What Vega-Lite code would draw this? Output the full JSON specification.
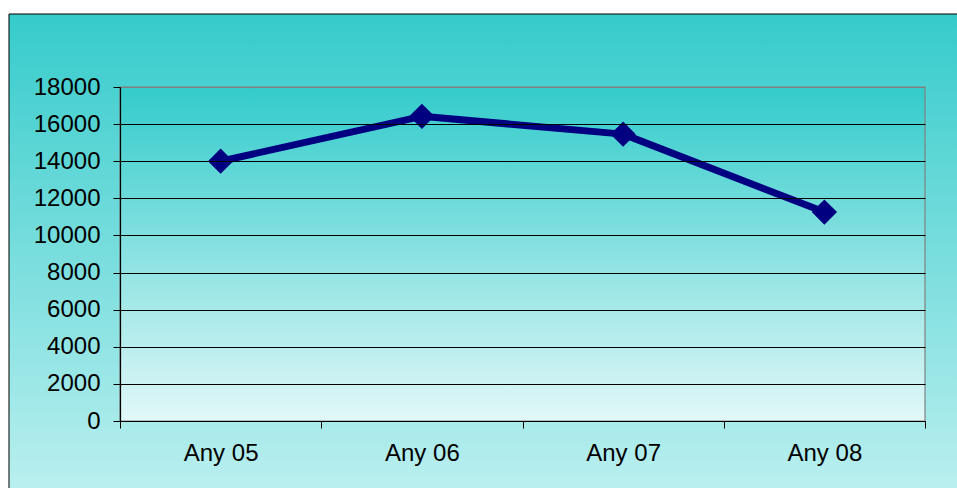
{
  "$schema": "https://vega.github.io/schema/vega-lite/v6.json",
  "width": 805,
  "height": 334,
  "autosize": {"type": "none"},
  "padding": {"left": 120, "top": 87, "right": 32, "bottom": 67},
  "background": "#ffffff",
  "config": {
    "view": {"stroke": null},
    "axis": {"labelFont": "Liberation Sans", "labelFontSize": 24, "labelColor": "#000000"}
  },
  "resolve": {"scale": {"x": "independent"}, "axis": {"x": "independent"}},
  "layer": [
    {
      "data": {"values": [{}]},
      "mark": {
        "type": "rect",
        "stroke": "#000000",
        "strokeWidth": 1,
        "fill": {
          "gradient": "linear", "x1": 0, "y1": 0, "x2": 0, "y2": 1,
          "stops": [
            {"offset": 0, "color": "#36CBCB"},
            {"offset": 0.915, "color": "#BAEFEF"},
            {"offset": 1, "color": "#BFF0F0"}
          ]
        }
      },
      "encoding": {
        "x": {"datum": -0.5516, "type": "quantitative", "scale": {"domain": [0, 4]}, "axis": null},
        "x2": {"datum": 4.4},
        "y": {"datum": 21934, "type": "quantitative", "scale": {"domain": [0, 18000], "nice": false},
          "axis": {
            "title": null, "values": [0, 2000, 4000, 6000, 8000, 10000, 12000, 14000, 16000, 18000],
            "format": "d", "grid": true, "labelOverlap": false, "labelFlush": false,
            "gridColor": {"condition": {"test": "datum.value == 18000", "value": "#808080"}, "value": "#000000"},
            "gridWidth": 1,
            "domainColor": "#000000", "domainWidth": 1.2, "tickColor": "#000000", "tickSize": 7,
            "labelPadding": 13, "labelBaseline": "middle", "zindex": 1
          }
        },
        "y2": {"datum": -6000}
      }
    },
    {
      "data": {"values": [{}]},
      "mark": {
        "type": "rect",
        "stroke": "#808080",
        "strokeWidth": 1.2,
        "fill": {
          "gradient": "linear", "x1": 0, "y1": 0, "x2": 0, "y2": 1,
          "stops": [
            {"offset": 0, "color": "#33CBCB"},
            {"offset": 1, "color": "#E2F8F8"}
          ]
        }
      },
      "encoding": {
        "x": {"datum": 0, "type": "quantitative", "scale": {"domain": [0, 4]}, "axis": null},
        "x2": {"datum": 4},
        "y": {"datum": 18000, "type": "quantitative", "scale": {"domain": [0, 18000], "nice": false},
          "axis": {
            "title": null, "values": [0, 2000, 4000, 6000, 8000, 10000, 12000, 14000, 16000, 18000],
            "format": "d", "grid": true, "labelOverlap": false, "labelFlush": false,
            "gridColor": {"condition": {"test": "datum.value == 18000", "value": "#808080"}, "value": "#000000"},
            "gridWidth": 1,
            "domainColor": "#000000", "domainWidth": 1.2, "tickColor": "#000000", "tickSize": 7,
            "labelPadding": 13, "labelBaseline": "middle", "zindex": 1
          }
        },
        "y2": {"datum": 0}
      }
    },
    {
      "data": {"values": [
        {"year": "Any 05", "value": 14000},
        {"year": "Any 06", "value": 16420},
        {"year": "Any 07", "value": 15460},
        {"year": "Any 08", "value": 11260}
      ]},
      "layer": [
        {
          "mark": {"type": "line", "color": "#000080", "strokeWidth": 7, "strokeJoin": "round"},
          "encoding": {}
        },
        {
          "mark": {"type": "point", "shape": "diamond", "filled": true, "size": 640, "color": "#000080", "opacity": 1}
        }
      ],
      "encoding": {
        "x": {
          "field": "year", "type": "nominal", "sort": null,
          "scale": {"type": "band", "paddingInner": 0, "paddingOuter": 0},
          "axis": {
            "title": null, "labelAngle": 0, "tickBand": "extent", "grid": false,
            "domainColor": "#000000", "domainWidth": 1.2, "tickColor": "#000000", "tickSize": 7,
            "labelPadding": 13, "zindex": 1, "labelOverlap": false
          }
        },
        "y": {
          "field": "value", "type": "quantitative",
          "scale": {"domain": [0, 18000], "nice": false},
          "axis": {
            "title": null, "values": [0, 2000, 4000, 6000, 8000, 10000, 12000, 14000, 16000, 18000],
            "format": "d", "grid": true, "labelOverlap": false, "labelFlush": false,
            "gridColor": {"condition": {"test": "datum.value == 18000", "value": "#808080"}, "value": "#000000"},
            "gridWidth": 1,
            "domainColor": "#000000", "domainWidth": 1.2, "tickColor": "#000000", "tickSize": 7,
            "labelPadding": 13, "labelBaseline": "middle", "zindex": 1
          }
        }
      }
    }
  ]
}
